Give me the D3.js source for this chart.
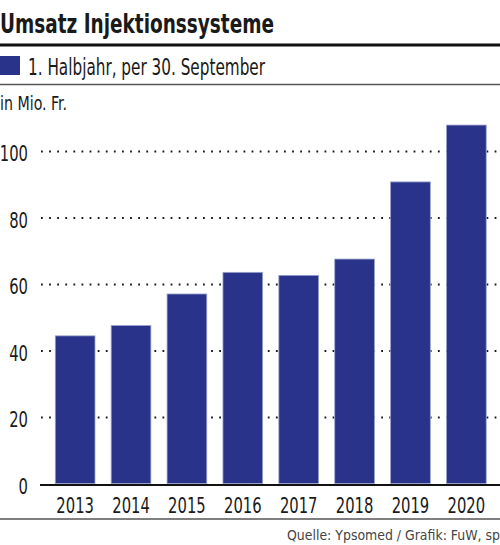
<!DOCTYPE html>
<html>
<head>
<meta charset="utf-8">
<script src="https://cdn.jsdelivr.net/npm/d3@7"></script>
<style>
  body { margin: 0; background: #fff; }
  svg text { font-family: "Liberation Sans Narrow", "DejaVu Sans Condensed", sans-serif; fill: #1a1a1a; }
</style>
</head>
<body>
<div id="chart"></div>
<script>
// Umsatz Injektionssysteme, 1. Halbjahr, in Mio. Fr.
var years = ["2013", "2014", "2015", "2016", "2017", "2018", "2019", "2020"];
var umsatz = [44.4, 47.5, 57.0, 63.5, 62.6, 67.5, 90.7, 107.8];
var yTicks = [0, 20, 40, 60, 80, 100];

var width = 500;
var height = 545;
var barColor = "#283389";
var digitW = 9.4; // condensed digit width in the original

var svg = d3.select("#chart")
            .append("svg")
            .attr("width", width)
            .attr("height", height);

// title block
svg.append("text")
   .attr("x", 0)
   .attr("y", 33)
   .attr("textLength", 274)
   .attr("lengthAdjust", "spacingAndGlyphs")
   .style("font-size", "27px")
   .style("font-weight", "bold")
   .text("Umsatz Injektionssysteme");

svg.append("line")
   .attr("x1", 0).attr("x2", width)
   .attr("y1", 45).attr("y2", 45)
   .style("stroke", "#111")
   .style("stroke-width", 3);

svg.append("rect")
   .attr("x", 0).attr("y", 56)
   .attr("width", 20).attr("height", 19)
   .style("fill", barColor);

svg.append("text")
   .attr("x", 28)
   .attr("y", 75)
   .attr("textLength", 237)
   .attr("lengthAdjust", "spacingAndGlyphs")
   .style("font-size", "23px")
   .text("1. Halbjahr, per 30. September");

svg.append("line")
   .attr("x1", 0).attr("x2", width)
   .attr("y1", 84.5).attr("y2", 84.5)
   .style("stroke", "#555")
   .style("stroke-width", 1.5);

svg.append("text")
   .attr("x", 0)
   .attr("y", 110)
   .attr("textLength", 67)
   .attr("lengthAdjust", "spacingAndGlyphs")
   .style("font-size", "19px")
   .text("in Mio. Fr.");

// scales
var x = d3.scaleBand()
          .domain(years)
          .range([55.3, 486.2])
          .paddingInner(0.29)
          .paddingOuter(0);

var y = d3.scaleLinear()
          .domain([0, 100])
          .range([483.5, 151]);

// y axis with dotted grid
var yAxis = svg.append("g")
               .attr("transform", "translate(41,0)")
               .call(d3.axisLeft(y)
                       .tickValues(yTicks)
                       .tickSize(-(width - 41))
                       .tickPadding(13));

yAxis.select(".domain").remove();
yAxis.selectAll(".tick line")
     .style("stroke", "#1a1a1a")
     .style("stroke-width", 1.8)
     .style("stroke-dasharray", "1.8,6.3")
     .style("opacity", d => d === 0 ? 0 : 1);
yAxis.selectAll(".tick text")
     .attr("dy", "0.46em")
     .attr("textLength", d => String(d).length * digitW)
     .attr("lengthAdjust", "spacingAndGlyphs")
     .style("font-size", "21px")
     .style("fill", "#1a1a1a");

// bars
svg.append("g")
   .selectAll("rect")
   .data(years)
   .enter()
   .append("rect")
   .attr("x", (d, i) => x(d))
   .attr("y", (d, i) => y(umsatz[i]))
   .attr("width", x.bandwidth())
   .attr("height", (d, i) => y(0) - y(umsatz[i]))
   .style("fill", barColor)
   .style("stroke", "#9aa0cc")
   .style("stroke-width", 0.8);

// x axis
var xAxis = svg.append("g")
               .attr("transform", "translate(0," + (y(0) + 1.5) + ")")
               .call(d3.axisBottom(x).tickSize(0).tickPadding(13));

xAxis.select(".domain").remove();
xAxis.selectAll(".tick text")
     .attr("textLength", d => d.length * digitW)
     .attr("lengthAdjust", "spacingAndGlyphs")
     .style("font-size", "21px")
     .style("fill", "#1a1a1a");

svg.append("line")
   .attr("x1", 40).attr("x2", width)
   .attr("y1", y(0) + 1.5).attr("y2", y(0) + 1.5)
   .style("stroke", "#111")
   .style("stroke-width", 2.2);

svg.append("line")
   .attr("x1", 0).attr("x2", width)
   .attr("y1", 519).attr("y2", 519)
   .style("stroke", "#555")
   .style("stroke-width", 1.5);

svg.append("text")
   .attr("x", width)
   .attr("y", 540)
   .attr("text-anchor", "end")
   .attr("textLength", 213)
   .attr("lengthAdjust", "spacingAndGlyphs")
   .style("font-size", "14px")
   .style("fill", "#444")
   .text("Quelle: Ypsomed / Grafik: FuW, sp");
</script>
</body>
</html>
